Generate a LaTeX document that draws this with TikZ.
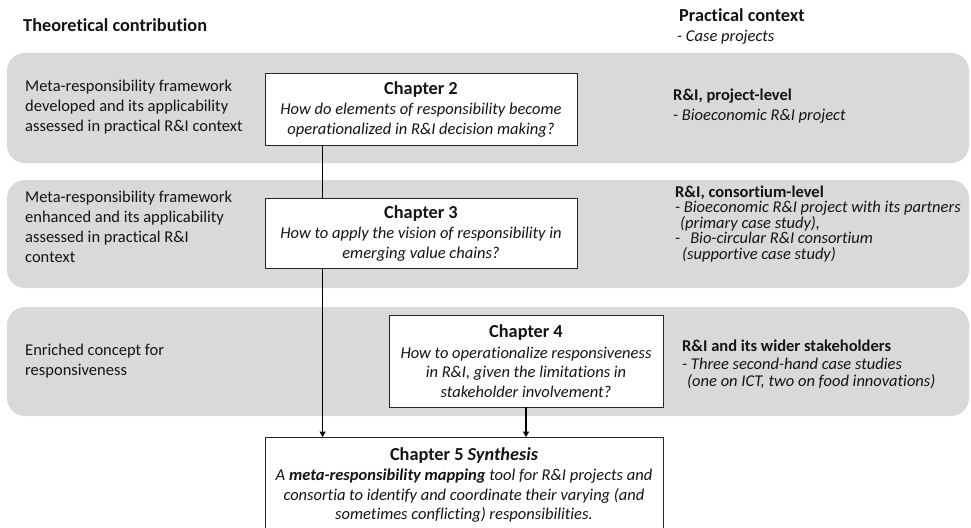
\documentclass[tikz,border=0pt]{standalone}
\usepackage{fontspec}
\setmainfont{Carlito}[Ligatures={NoCommon}]
\usetikzlibrary{arrows.meta}

\definecolor{bandgray}{HTML}{D9D9D9}
\definecolor{inkcol}{HTML}{141414}

\begin{document}
\begin{tikzpicture}[x=1pt,y=-1pt,
  band/.style={fill=bandgray, rounded corners=18pt},
  heading/.style={anchor=west, inner sep=0pt, text=inkcol,
    font=\fontsize{18.3}{22}\selectfont\bfseries},
  sidetext/.style={anchor=west, inner sep=0pt, align=left, text=inkcol,
    font=\fontsize{16.5}{20}\selectfont},
  chbox/.style={draw=black!85, line width=0.8pt, fill=white, inner sep=0pt,
    align=center, text=inkcol, font=\fontsize{16.5}{19.5}\selectfont\itshape},
  flow/.style={line width=1.1pt, black},
  tip/.style={-{Triangle[length=5.5pt,width=6pt]}}
]
\newcommand{\chhead}[1]{{\fontsize{18.3}{22}\selectfont\bfseries\upshape #1}}

% canvas
\useasboundingbox (0,0) rectangle (971,527);
\clip (0,0) rectangle (971,527);

% column headings
\node[heading] (theory) at (23,25) {Theoretical contribution};
\node[heading] (practice) at (679,15) {Practical context};
\node[sidetext, font=\fontsize{16.5}{20}\selectfont\itshape] (cases) at (677,37) {- Case projects};

% grey bands, one per level
\fill[band] (7,53) rectangle (969,163);
\fill[band] (7,180) rectangle (969,288);
\fill[band] (7,307) rectangle (969,416);

% theoretical contribution per level
\node[sidetext] (theory2) at (25,107) {Meta-responsibility framework\\developed and its applicability\\assessed in practical R\&I context};
\node[sidetext] (theory3) at (25,227) {Meta-responsibility framework\\enhanced and its applicability\\assessed in practical R\&I\\context};
\node[sidetext] (theory4) at (25,361) {Enriched concept for\\responsiveness};

% practical context per level
\node[sidetext] (context2) at (673,106) {\textbf{R\&I, project-level}\\\textit{- Bioeconomic R\&I project}};
\node[sidetext, font=\fontsize{16.5}{15.5}\selectfont] (context3) at (675,224)
  {\textbf{R\&I, consortium-level}\\
   \textit{- Bioeconomic R\&I project with its partners}\\
   \hspace*{5pt}\textit{(primary case study),}\\
   \textit{-\hspace{10pt}Bio-circular R\&I consortium}\\
   \hspace*{7pt}\textit{(supportive case study)}};
\node[sidetext, font=\fontsize{16.5}{17.5}\selectfont] (context4) at (682,364.5)
  {\textbf{R\&I and its wider stakeholders}\\
   \textit{- Three second-hand case studies}\\
   \hspace*{5pt}\textit{(one on ICT, two on food innovations)}};

% chapter boxes
\node[chbox, minimum width=312pt, minimum height=72pt] (ch2) at (421,109)
  {\chhead{Chapter 2}\\[1pt]How do elements of responsibility become\\operationalized in R\&I decision making?};
\node[chbox, minimum width=312pt, minimum height=70pt] (ch3) at (421,233)
  {\chhead{Chapter 3}\\[1pt]How to apply the vision of responsibility in\\emerging value chains?};
\node[chbox, minimum width=274pt, minimum height=92pt] (ch4) at (526,361)
  {\chhead{Chapter 4}\\[1pt]How to operationalize responsiveness\\in R\&I, given the limitations in\\stakeholder involvement?};
\node[chbox, minimum width=398pt, minimum height=95pt] (ch5) at (464,485)
  {\chhead{Chapter 5 \itshape Synthesis}\\[1pt]A \textbf{meta-responsibility mapping} tool for R\&I projects and\\consortia to identify and coordinate their varying (and\\sometimes conflicting) responsibilities.};

% connectors
\draw[flow] ([xshift=58pt]ch2.south west) -- ([xshift=58pt]ch3.north west);
\draw[flow, tip] ([xshift=58pt]ch3.south west) -- ([xshift=58pt]ch5.north west);
\draw[flow, tip] (ch4.south) -- (ch4.south |- ch5.north);
\end{tikzpicture}
\end{document}
